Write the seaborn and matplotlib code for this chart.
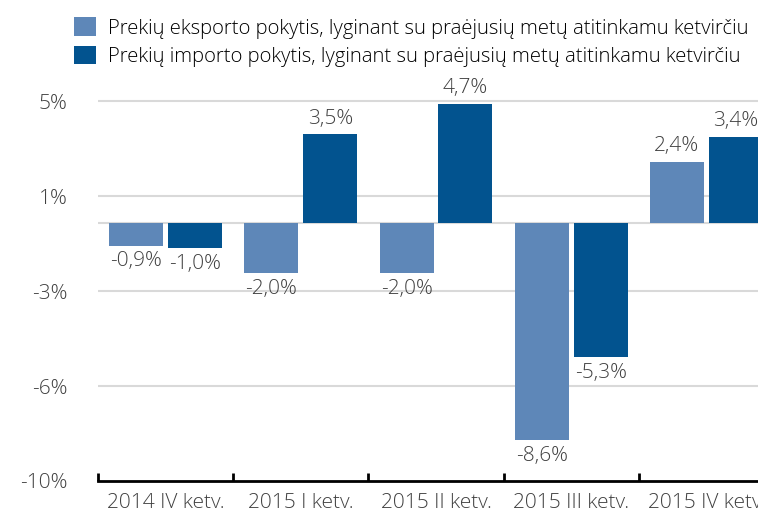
import pandas as pd
import matplotlib
matplotlib.use("Agg")
import matplotlib.pyplot as plt
import seaborn as sns

quarters = ["2014 IV ketv.", "2015 I ketv.", "2015 II ketv.", "2015 III ketv.", "2015 IV ketv."]
export_change = [-0.9, -2.0, -2.0, -8.6, 2.4]
import_change = [-1.0, 3.5, 4.7, -5.3, 3.4]
series_names = [
    "Prekių eksporto pokytis, lyginant su praėjusių metų atitinkamu ketvirčiu",
    "Prekių importo pokytis, lyginant su praėjusių metų atitinkamu ketvirčiu",
]
y_ticks = [-10.2, -6.45, -2.7, 1.05, 4.8]
y_tick_labels = ["-10%", "-6%", "-3%", "1%", "5%"]

df = pd.DataFrame({
    "quarter": quarters * 2,
    "value": export_change + import_change,
    "series": [series_names[0]] * 5 + [series_names[1]] * 5,
})

sns.set_style("white")
plt.rcParams["font.family"] = ["Open Sans", "DejaVu Sans"]
plt.rcParams["font.weight"] = "light"
text_color = "#404040"

fig = plt.figure(figsize=(7.58, 5.2), dpi=100)
# plot area runs past the right edge, like in the source image
ax = fig.add_axes([98 / 758, 39 / 520, 676 / 758, 421 / 520])

sns.barplot(
    data=df,
    x="quarter",
    y="value",
    hue="series",
    palette=["#5E87B8", "#02538F"],
    saturation=1,
    linewidth=0,
    width=0.87,
    gap=0.085,
    ax=ax,
    legend=True,
)

ax.set_ylim(-10.2, 6.43)
ax.set_xlim(-0.5, 4.5)

for y in y_ticks[1:]:
    ax.axhline(y, color="#d9d9d9", lw=1.5, zorder=0)
ax.axhline(0, color="#d9d9d9", lw=1.5, zorder=0)

ax.set_yticks(y_ticks)
ax.set_yticklabels(y_tick_labels)
ax.tick_params(axis="y", length=0, pad=22, labelsize=15, labelcolor=text_color)

# ticks between categories, labels at category centres
ax.set_xticks([i - 0.5 for i in range(6)])
ax.set_xticklabels([])
ax.set_xticks(range(5), minor=True)
ax.set_xticklabels(quarters, minor=True)
ax.tick_params(axis="x", which="major", bottom=True, direction="in",
               length=6, width=2, color="black")
ax.tick_params(axis="x", which="minor", length=0, pad=9, labelsize=15, labelcolor=text_color)

for side in ["top", "right", "left"]:
    ax.spines[side].set_visible(False)
ax.spines["bottom"].set_linewidth(2)
ax.spines["bottom"].set_color("black")

ax.set_xlabel("")
ax.set_ylabel("")

for container in ax.containers:
    labels = [f"{v:.1f}%".replace(".", ",") for v in container.datavalues]
    ax.bar_label(container, labels=labels, padding=4, fontsize=15, color=text_color)

handles, labels = ax.get_legend_handles_labels()
ax.get_legend().remove()
fig.legend(
    handles, labels,
    loc="upper left",
    bbox_to_anchor=(56 / 758, 1 + 1 / 520),
    frameon=False,
    fontsize=14.6,
    labelcolor="black",
    handlelength=1.06,
    handleheight=1.06,
    handletextpad=0.6,
    labelspacing=0.34,
)

fig.savefig("out.png", dpi=100)
